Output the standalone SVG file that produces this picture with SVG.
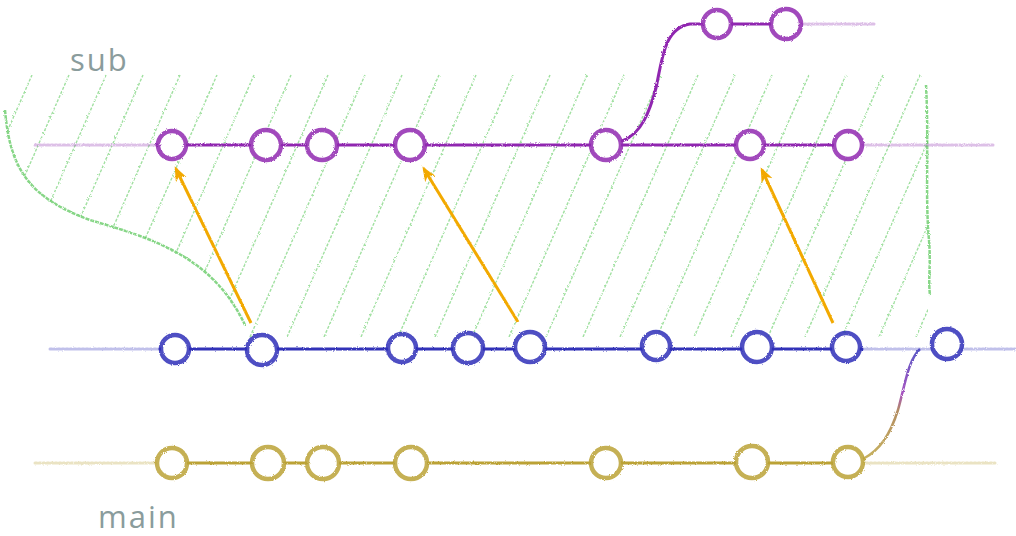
<svg xmlns="http://www.w3.org/2000/svg" width="1016" height="536" viewBox="0 0 1016 536">
<style>
.node{fill:#fff;stroke-width:4.5;stroke-opacity:.85}
.p{stroke:#9028b0}.b{stroke:#3030b8}.y{stroke:#bba236}
.solid{fill:none;stroke-width:3;stroke-linecap:round}
.faint{fill:none;stroke-width:3;stroke-opacity:.3;stroke-dasharray:2 2;stroke-linecap:round}
.arrow{fill:none;stroke:#f2a900;stroke-width:3;marker-end:url(#ah)}
.hatch{stroke:#62cc62;stroke-width:1.4;stroke-opacity:.6;stroke-dasharray:3 1.5;fill:none}
.edge{stroke:#55c455;stroke-width:2.5;stroke-opacity:.7;fill:none;stroke-dasharray:4 1}
.lbl{font-family:"Open Sans","DejaVu Sans",sans-serif;font-size:31px;fill:#8a9c9c;letter-spacing:2px}
</style>
<defs>
<filter id="rough" x="-5%" y="-5%" width="110%" height="110%">
<feTurbulence type="fractalNoise" baseFrequency="0.9" numOctaves="2" seed="3" result="n"/>
<feDisplacementMap in="SourceGraphic" in2="n" scale="2.5"/>
</filter>
<marker id="ah" viewBox="0 0 10 10" refX="8" refY="5" markerWidth="5" markerHeight="5" orient="auto" markerUnits="strokeWidth">
<path d="M0,1 L10,5 L0,9 L3,5 Z" fill="#f2a900"/>
</marker>
<clipPath id="zone">
<path d="M5,110 C10,170 30,198 90,220 C150,238 212,255 245,325 L248,337 L928,337 L928,70 L5,70 Z"/>
</clipPath>
<linearGradient id="mg" gradientUnits="userSpaceOnUse" x1="0" y1="462" x2="0" y2="348">
<stop offset="0" stop-color="#bba236"/><stop offset="0.45" stop-color="#a0703a"/><stop offset="0.6" stop-color="#9028b0"/><stop offset="1" stop-color="#3030b8"/>
</linearGradient>
</defs>
<g id="zone-hatch" filter="url(#rough)">
<g clip-path="url(#zone)">
<path class="hatch" d="M-120,337 L-5,75 M-83,337 L32,75 M-46,337 L69,75 M-9,337 L106,75 M28,337 L143,75 M65,337 L180,75 M102,337 L217,75 M139,337 L254,75 M176,337 L291,75 M213,337 L328,75 M250,337 L365,75 M287,337 L402,75 M324,337 L439,75 M361,337 L476,75 M398,337 L513,75 M435,337 L550,75 M472,337 L587,75 M509,337 L624,75 M546,337 L661,75 M583,337 L698,75 M620,337 L735,75 M657,337 L772,75 M694,337 L809,75 M731,337 L846,75 M768,337 L883,75 M805,337 L920,75 M842,337 L957,75 M879,337 L994,75 M916,337 L1031,75"/>
</g>
<path class="edge" d="M5,110 C10,170 30,198 90,220 C150,238 212,255 245,325"/>
<path class="edge" d="M926,85 C929,140 925,200 929,240 C931,265 928,280 930,295"/>
</g>
<g id="connectors" filter="url(#rough)">
<path class="faint p" d="M35,145 L157,145"/>
<path class="solid p" d="M157,145 L835,145"/>
<path class="faint p" d="M863,145 L995,145"/>
<path class="solid p" d="M622,141 C642,134 650,110 656,88 C662,60 664,28 690,24 L800,24"/>
<path class="faint p" d="M800,24 L875,24"/>
<path class="faint b" d="M50,349 L160,349"/>
<path class="solid b" d="M160,349 L862,349"/>
<path class="faint b" d="M862,349 L1015,349"/>
<path class="faint y" d="M35,463 L160,463"/>
<path class="solid y" d="M160,463 L862,463"/>
<path class="faint y" d="M862,463 L995,463"/>
<path d="M863,459 C880,450 890,435 898,410 C905,385 908,360 920,349" fill="none" stroke="url(#mg)" stroke-width="2.5" stroke-opacity=".8"/>
<path class="arrow" d="M251,323 L176,169"/>
<path class="arrow" d="M518,322 L424,169"/>
<path class="arrow" d="M833,323 L762,170"/>
</g>
<g filter="url(#rough)">
<g id="s1"><circle class="node p" cx="172" cy="145" r="14"/></g>
<g id="s2"><circle class="node p" cx="266" cy="145" r="15"/></g>
<g id="s3"><circle class="node p" cx="322" cy="145" r="15"/></g>
<g id="s4"><circle class="node p" cx="410" cy="145" r="15"/></g>
<g id="s5"><circle class="node p" cx="606" cy="145" r="15"/></g>
<g id="s6"><circle class="node p" cx="750" cy="145" r="14"/></g>
<g id="s7"><circle class="node p" cx="848" cy="145" r="14"/></g>
<g id="t1"><circle class="node p" cx="717" cy="24" r="14"/></g>
<g id="t2"><circle class="node p" cx="786" cy="24" r="15"/></g>
<g id="b1"><circle class="node b" cx="175" cy="349" r="14"/></g>
<g id="b2"><circle class="node b" cx="262" cy="350" r="15"/></g>
<g id="b3"><circle class="node b" cx="402" cy="348" r="14"/></g>
<g id="b4"><circle class="node b" cx="468" cy="348" r="15"/></g>
<g id="b5"><circle class="node b" cx="530" cy="347" r="15"/></g>
<g id="b6"><circle class="node b" cx="656" cy="346" r="14"/></g>
<g id="b7"><circle class="node b" cx="757" cy="347" r="15"/></g>
<g id="b8"><circle class="node b" cx="846" cy="347" r="14"/></g>
<g id="b9"><circle class="node b" cx="947" cy="344" r="15"/></g>
<g id="m1"><circle class="node y" cx="172" cy="463" r="15"/></g>
<g id="m2"><circle class="node y" cx="268" cy="463" r="16"/></g>
<g id="m3"><circle class="node y" cx="323" cy="463" r="16"/></g>
<g id="m4"><circle class="node y" cx="411" cy="463" r="16"/></g>
<g id="m5"><circle class="node y" cx="606" cy="463" r="15"/></g>
<g id="m6"><circle class="node y" cx="752" cy="462" r="16"/></g>
<g id="m7"><circle class="node y" cx="848" cy="462" r="15"/></g>
</g>
<g id="labels">
<text class="lbl" x="70" y="71">sub</text>
<text class="lbl" x="98" y="528">main</text>
</g>
</svg>
